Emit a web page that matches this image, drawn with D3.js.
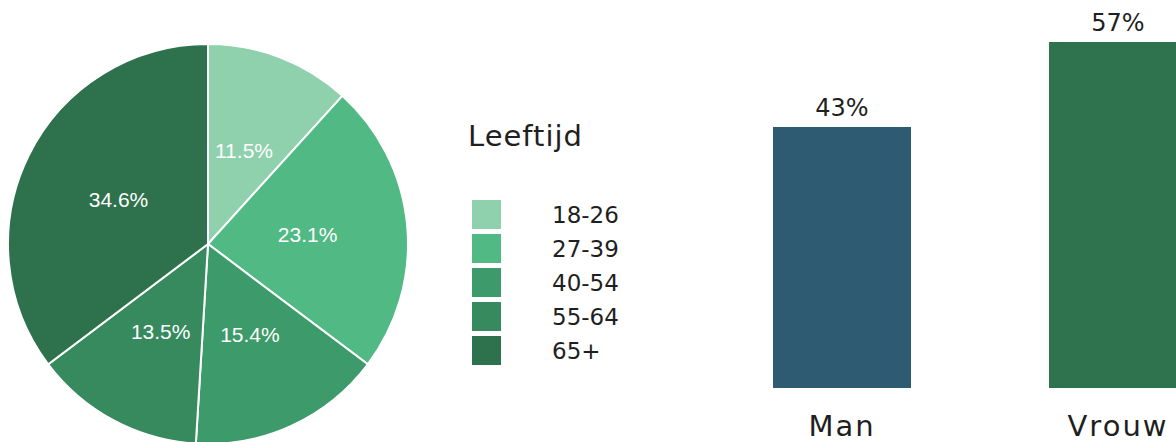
<!doctype html>
<html lang="nl">
<head>
<meta charset="utf-8">
<title>Leeftijd en geslacht</title>
<script src="https://cdn.jsdelivr.net/npm/d3@7"></script>
<style>
    body { margin: 0; background: #fff; }
    .dark { font-family: "DejaVu Sans", sans-serif; fill: #1f1f1f; }
    .pieLabel { font-family: "Liberation Sans", Arial, sans-serif; fill: #fff; font-size: 21px; }
</style>
</head>
<body>
<svg width="1176" height="442"></svg>
<script>
    // leeftijd (pie)
    var ageGroups = ["18-26", "27-39", "40-54", "55-64", "65+"];
    var agePct = [11.5, 23.1, 15.4, 13.5, 34.6];
    var ageColors = ["#8ed1ac", "#51b984", "#3d9a6a", "#368a5e", "#2e724d"];

    // geslacht (bars)
    var genders = ["Man", "Vrouw"];
    var genderPct = [43, 57];
    var genderColors = ["#2e5a72", "#2e724e"];

    var svg = d3.select("svg");

    // ---- pie ----
    var radius = 200;
    var pieG = svg.append("g")
        .attr("transform", "translate(208,244)");

    var pie = d3.pie().sort(null);
    var arc = d3.arc().innerRadius(0).outerRadius(radius);

    var slices = pieG.selectAll(".slice")
        .data(pie(agePct))
        .enter().append("g")
        .attr("class", "slice");

    slices.append("path")
        .attr("d", arc)
        .style("fill", function(d, i) { return ageColors[i]; })
        .style("stroke", "#fff")
        .style("stroke-width", 2);

    slices.append("text")
        .attr("class", "pieLabel")
        .attr("transform", function(d) { return "translate(" + arc.centroid(d) + ")"; })
        .attr("dy", "0.35em")
        .attr("text-anchor", "middle")
        .text(function(d, i) { return agePct[i].toFixed(1) + "%"; });

    // ---- legend ----
    var legend = svg.append("g")
        .attr("transform", "translate(468,0)");

    legend.append("text")
        .attr("class", "dark")
        .attr("x", 0)
        .attr("y", 146)
        .style("font-size", "29px")
        .style("letter-spacing", "1px")
        .text("Leeftijd");

    var legendY = d3.scaleBand()
        .domain(ageGroups)
        .range([200, 370]);

    var items = legend.selectAll(".item")
        .data(ageGroups)
        .enter().append("g")
        .attr("class", "item")
        .attr("transform", function(d) { return "translate(0," + legendY(d) + ")"; });

    items.append("rect")
        .attr("x", 4)
        .attr("width", 29)
        .attr("height", 29)
        .style("fill", function(d, i) { return ageColors[i]; });

    items.append("text")
        .attr("class", "dark")
        .attr("x", 84)
        .attr("y", 23)
        .style("font-size", "23px")
        .text(function(d) { return d; });

    // ---- bars ----
    var xScale = d3.scaleBand()
        .domain(genders)
        .range([704, 1256])
        .paddingInner(0.5)
        .paddingOuter(0.25);

    var yScale = d3.scaleLinear()
        .domain([0, 57])
        .range([388, 42]);

    var bars = svg.append("g")
        .selectAll(".bar")
        .data(genders)
        .enter().append("g")
        .attr("class", "bar");

    bars.append("rect")
        .attr("x", function(d) { return xScale(d); })
        .attr("y", function(d, i) { return yScale(genderPct[i]); })
        .attr("width", xScale.bandwidth())
        .attr("height", function(d, i) { return yScale(0) - yScale(genderPct[i]); })
        .style("fill", function(d, i) { return genderColors[i]; });

    bars.append("text")
        .attr("class", "dark")
        .attr("x", function(d) { return xScale(d) + xScale.bandwidth() / 2; })
        .attr("y", function(d, i) { return yScale(genderPct[i]) - 11; })
        .attr("text-anchor", "middle")
        .style("font-size", "24px")
        .text(function(d, i) { return genderPct[i] + "%"; });

    bars.append("text")
        .attr("class", "dark")
        .attr("x", function(d) { return xScale(d) + xScale.bandwidth() / 2; })
        .attr("y", 436)
        .attr("text-anchor", "middle")
        .style("font-size", "29px")
        .style("letter-spacing", "2px")
        .text(function(d) { return d; });
</script>
</body>
</html>
